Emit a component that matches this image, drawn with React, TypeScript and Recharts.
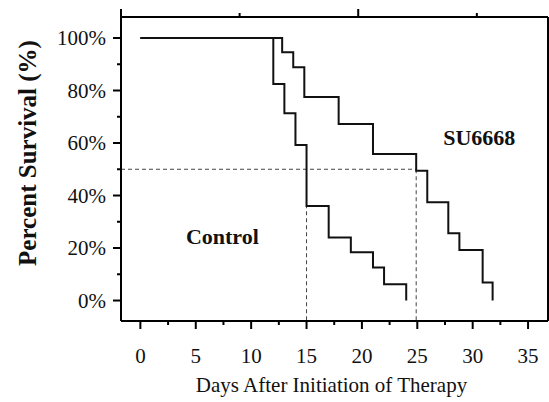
import { LineChart, Line, XAxis, YAxis, ReferenceLine, ReferenceDot } from 'recharts';

// Kaplan-Meier steps (day of drop, survival after drop)
const controlDays = [0, 12, 13, 14, 15, 17, 19, 21, 22, 24];
const controlSurvival = [100, 82.5, 71.3, 59.2, 36, 24, 18.4, 12.6, 6.2, 0];
const suDays = [0, 12.8, 13.8, 14.8, 17.9, 21, 24.9, 25.9, 27.8, 28.8, 30.9, 31.8];
const suSurvival = [100, 94.6, 88.9, 77.5, 67.2, 55.8, 49.4, 37.4, 25.6, 19.2, 6.9, 0];

const groupNames = ['Control', 'SU6668'];
const medianSurvival = 50;
const medianDays = [15, 24.9];

const xTicks = [0, 2.5, 5, 7.5, 10, 12.5, 15, 17.5, 20, 22.5, 25, 27.5, 30, 32.5, 35];
const yTicks = [0, 10, 20, 30, 40, 50, 60, 70, 80, 90, 100];

const xDomain = [-1.75, 36.8];
const yDomain = [-7.8, 108];

const FONT = 'Liberation Serif, Times New Roman, serif';

const controlData = controlDays.map((d, i) => ({ day: d, survival: controlSurvival[i] }));
const suData = suDays.map((d, i) => ({ day: d, survival: suSurvival[i] }));

const XTick = ({ x, y, payload, orientation }: any) => {
  const major = payload.value % 5 === 0;
  const len = major ? 8 : 4;
  const dir = orientation === 'top' ? -1 : 1;
  return (
    <g>
      <line x1={x} x2={x} y1={y} y2={y + dir * len} stroke="#000" strokeWidth={2} />
      {major && orientation !== 'top' && (
        <text x={x} y={y + 42} textAnchor="middle" style={{ fontFamily: FONT, fontSize: 21 }} fill="#111">
          {payload.value}
        </text>
      )}
    </g>
  );
};

const YTick = ({ x, y, payload, orientation }: any) => {
  const major = payload.value % 20 === 0;
  const len = major ? 8 : 4;
  const dir = orientation === 'right' ? 1 : -1;
  return (
    <g>
      <line x1={x} x2={x + dir * len} y1={y} y2={y} stroke="#000" strokeWidth={2} />
      {major && orientation !== 'right' && (
        <text x={x - 15} y={y} dy="0.35em" textAnchor="end" style={{ fontFamily: FONT, fontSize: 21 }} fill="#111">
          {payload.value + '%'}
        </text>
      )}
    </g>
  );
};

const XTitle = ({ viewBox }: any) => (
  <text
    x={viewBox.x + viewBox.width / 2 - 3}
    y={viewBox.y + 71}
    textAnchor="middle"
    style={{ fontFamily: FONT, fontSize: 21 }}
    fill="#111"
  >
    Days After Initiation of Therapy
  </text>
);

const YTitle = ({ viewBox }: any) => {
  const cx = viewBox.x + 27;
  const cy = viewBox.y + viewBox.height / 2 - 16;
  return (
    <text
      x={cx}
      y={cy}
      transform={`rotate(-90, ${cx}, ${cy})`}
      textAnchor="middle"
      dominantBaseline="central"
      style={{ fontFamily: FONT, fontSize: 25, fontWeight: 'bold' }}
      fill="#111"
    >
      Percent Survival (%)
    </text>
  );
};

const groupLabel = (text: string) => ({
  value: text,
  position: 'center' as const,
  style: { fontFamily: FONT, fontSize: 22, fontWeight: 'bold' },
  fill: '#111',
});

export default function App() {
  return (
    <div style={{ position: 'absolute', left: 0, top: 0, background: '#fff' }}>
      <LineChart width={549} height={402} data={controlData} margin={{ top: 7, right: 0, bottom: 0, left: 0 }}>
        <XAxis
          dataKey="day"
          type="number"
          domain={xDomain}
          allowDataOverflow
          ticks={xTicks}
          interval={0}
          tickSize={0}
          tickMargin={0}
          tickLine={false}
          tick={<XTick />}
          height={81}
          axisLine={{ stroke: '#000', strokeWidth: 2 }}
          label={<XTitle />}
        />
        <XAxis
          xAxisId="top"
          orientation="top"
          type="number"
          domain={xDomain}
          allowDataOverflow
          ticks={xTicks}
          interval={0}
          tickSize={0}
          tickMargin={0}
          tickLine={false}
          tick={<XTick orientation="top" />}
          height={10}
          axisLine={{ stroke: '#000', strokeWidth: 2 }}
        />
        <YAxis
          type="number"
          domain={yDomain}
          allowDataOverflow
          ticks={yTicks}
          interval={0}
          tickSize={0}
          tickMargin={0}
          tickLine={false}
          tick={<YTick />}
          width={121}
          axisLine={{ stroke: '#000', strokeWidth: 2 }}
          label={<YTitle />}
        />
        <YAxis
          yAxisId="right"
          orientation="right"
          type="number"
          domain={yDomain}
          allowDataOverflow
          ticks={yTicks}
          interval={0}
          tickSize={0}
          tickMargin={0}
          tickLine={false}
          tick={<YTick orientation="right" />}
          width={1}
          axisLine={{ stroke: '#000', strokeWidth: 2 }}
        />
        <ReferenceLine
          segment={[
            { x: xDomain[0], y: medianSurvival },
            { x: medianDays[1], y: medianSurvival },
          ]}
          stroke="#444"
          strokeWidth={1}
          strokeDasharray="4 3"
        />
        {medianDays.map((d) => (
          <ReferenceLine
            key={d}
            segment={[
              { x: d, y: medianSurvival },
              { x: d, y: yDomain[0] },
            ]}
            stroke="#444"
            strokeWidth={1}
            strokeDasharray="4 3"
          />
        ))}
        <Line
          data={controlData}
          dataKey="survival"
          type="stepAfter"
          stroke="#111"
          strokeWidth={2}
          dot={false}
          isAnimationActive={false}
        />
        <Line
          data={suData}
          dataKey="survival"
          type="stepAfter"
          stroke="#111"
          strokeWidth={2}
          dot={false}
          isAnimationActive={false}
        />
        <ReferenceDot x={7.4} y={24.5} r={0} fill="none" stroke="none" label={groupLabel(groupNames[0])} />
        <ReferenceDot x={30.6} y={62.3} r={0} fill="none" stroke="none" label={groupLabel(groupNames[1])} />
      </LineChart>
    </div>
  );
}
